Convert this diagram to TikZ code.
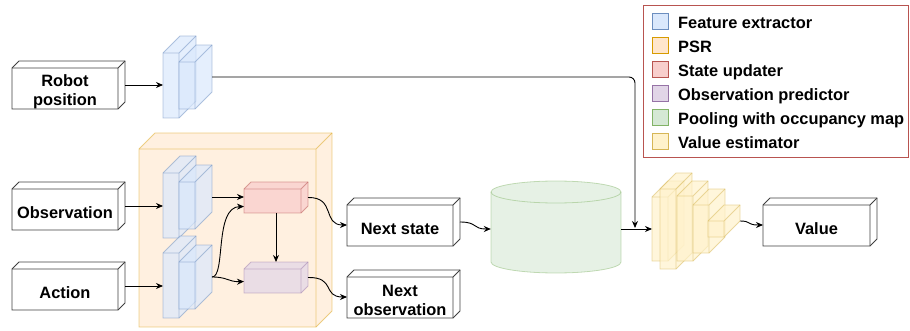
\documentclass[tikz,border=0pt]{standalone}
\usepackage{fontspec}
\setmainfont{Liberation Sans}
\usetikzlibrary{arrows.meta,calc}

% palette
\definecolor{feFill}{HTML}{DAE8FC}\definecolor{feLine}{HTML}{6C8EBF}
\definecolor{psrFill}{HTML}{FFE6CC}\definecolor{psrLine}{HTML}{D79B00}
\definecolor{suFill}{HTML}{F8CECC}\definecolor{suLine}{HTML}{B85450}
\definecolor{opFill}{HTML}{E1D5E7}\definecolor{opLine}{HTML}{9673A6}
\definecolor{poolFill}{HTML}{D5E8D4}\definecolor{poolLine}{HTML}{82B366}
\definecolor{veFill}{HTML}{FFF2CC}\definecolor{veLine}{HTML}{D6B656}

\tikzset{
  lbl/.style={font=\fontsize{16.4}{19}\selectfont\bfseries, align=center, inner sep=0pt},
  plain/.style={draw=black!75, fill=white, line width=0.8pt},
  fe/.style={draw=feLine, fill=feFill, draw opacity=0.5, fill opacity=0.7, line width=0.8pt},
  psr/.style={draw=psrLine, fill=psrFill, draw opacity=0.45, fill opacity=0.6, line width=0.8pt},
  su/.style={draw=suLine, fill=suFill, draw opacity=0.5, fill opacity=0.75, line width=0.8pt},
  op/.style={draw=opLine, fill=opFill, draw opacity=0.45, fill opacity=0.7, line width=0.8pt},
  pool/.style={draw=poolLine, fill=poolFill, draw opacity=0.45, fill opacity=0.6, line width=0.8pt},
  ve/.style={draw=veLine, fill=veFill, draw opacity=0.5, fill opacity=0.7, line width=0.8pt},
  link/.style={draw=black, line width=0.9pt, -{Stealth[length=7pt,width=6pt]}},
  swatch/.style={minimum width=16pt, minimum height=16pt, inner sep=0pt, line width=0.8pt},
  keytext/.style={lbl, anchor=base west},
}

% 3D block: [style]{name}{x}{y}{width}{height}{depth}{text}
% (x,y) is the top-left corner of the whole block, y grows downwards
\newcommand\dcube[8][]{%
  \draw[#1] (#3,#4+#7) -- (#3+#7,#4) -- (#3+#5,#4) -- (#3+#5,#4+#6-#7)
        -- (#3+#5-#7,#4+#6) -- (#3,#4+#6) -- cycle;
  \draw[#1,fill=none] (#3,#4+#7) -- (#3+#5-#7,#4+#7) -- (#3+#5,#4)
        (#3+#5-#7,#4+#7) -- (#3+#5-#7,#4+#6);
  \node[inner sep=0pt, outer sep=0pt, minimum width=#5pt, minimum height=#6pt]
        (#2) at (#3+#5/2,#4+#6/2) {};
  \node[lbl] (#2-t) at (#3+#5/2-#7/2,#4+#6/2+#7/2+3) {#8};
}
% pair of thin slabs forming a feature extractor
\newcommand\fepair[2]{%
  \dcube[fe]{#1a}{163}{#2}{33}{82}{17}{}
  \dcube[fe]{#1b}{179}{#2+9}{33}{64}{17}{}
}

\begin{document}
\begin{tikzpicture}[x=1pt,y=-1pt]
\useasboundingbox (0,0) rectangle (910,331);

% inputs
\dcube[plain]{robot}{12}{61}{113}{48}{7}{Robot\\position}
\dcube[plain]{obs}{12}{182}{113}{48}{7}{Observation}
\dcube[plain]{act}{12}{262}{113}{48}{7}{Action}

% PSR container
\dcube[psr]{psr}{139}{133}{193}{194}{16}{}

% feature extractors
\fepair{r}{36}
\fepair{o}{156}
\fepair{c}{236}

% state updater and observation predictor
\dcube[su]{su}{244}{182}{64}{31}{7}{}
\dcube[op]{op}{244}{262}{64}{31}{7}{}

% outputs
\dcube[plain]{nstate}{347}{198}{113}{48}{7}{Next state}
\dcube[plain]{nobs}{347}{270}{113}{48}{7}{Next\\observation}

% pooling with occupancy map
\draw[pool] (491,192) -- (491,262) arc[start angle=180,end angle=0,x radius=65,y radius=11]
  -- (621,192) arc[start angle=0,end angle=-180,x radius=65,y radius=11] -- cycle;
\draw[pool,fill=none] (491,192) arc[start angle=180,end angle=0,x radius=65,y radius=11];
\node[inner sep=0pt, minimum width=130pt, minimum height=92pt] (pool) at (556,227) {};

% value estimator
\dcube[ve]{v1}{652}{181}{32}{80}{16}{}
\dcube[ve]{v2}{660}{173}{32}{96}{16}{}
\dcube[ve]{v3}{677}{181}{31}{80}{15}{}
\dcube[ve]{v4}{693}{189}{32}{64}{16}{}
\dcube[ve]{v5}{708}{205}{32}{32}{16}{}

\dcube[plain]{value}{763}{198}{114}{48}{7}{Value}

% connectors
\draw[link] (robot.east) -- (robot.east -| ra.west);
\draw[link] (obs.east) -- (obs.east -| oa.west);
\draw[link] (act.east) -- (act.east -| ca.west);

\draw[link] (ob.east) -- (ob.east -| su.west);
\draw[link] (cb.east) .. controls (226,277) and (214,207) .. ($(su.west)+(0,9)$);
\draw[link] (cb.east) .. controls (228,277) and (228,282) .. ($(op.west)+(0,4)$);
\draw[link] (su.south) -- (op.north);

\draw[link] (su.east) .. controls (336,197) and (322,225) .. ($(nstate.west)+(0,3)$);
\draw[link] (op.east) .. controls (336,277) and (322,297) .. ($(nobs.west)+(0,3)$);
\draw[link] (nstate.east) .. controls (478,222) and (472,229) .. ($(pool.west)+(0,2)$);

\coordinate (pout) at ($(pool.east)+(0,2)$);
\coordinate (merge) at (635,228);
\draw[link] (pout) -- (pout -| v1.west);
\draw[link, rounded corners=6pt] (rb.east) -| (merge);

\draw[link] (v5.east) .. controls (752,221) and (746,225) .. ($(value.west)+(0,3)$);

% legend
\node[draw=suLine, line width=0.8pt, minimum width=265pt, minimum height=152pt,
      inner sep=0pt, anchor=north west] (legend) at (643,5) {};
\node[swatch, draw=feLine, fill=feFill]     (k1) at (660.5,21)  {};
\node[swatch, draw=psrLine, fill=psrFill]   (k2) at (660.5,45)  {};
\node[swatch, draw=suLine, fill=suFill]     (k3) at (660.5,69)  {};
\node[swatch, draw=opLine, fill=opFill]     (k4) at (660.5,93)  {};
\node[swatch, draw=poolLine, fill=poolFill] (k5) at (660.5,117) {};
\node[swatch, draw=veLine, fill=veFill]     (k6) at (660.5,141) {};
\node[keytext] (k1t) at (678,29)  {Feature extractor};
\node[keytext] (k2t) at (678,53)  {PSR};
\node[keytext] (k3t) at (678,77)  {State updater};
\node[keytext] (k4t) at (678,101) {Observation predictor};
\node[keytext] (k5t) at (678,125) {Pooling with occupancy map};
\node[keytext] (k6t) at (678,149) {Value estimator};
\end{tikzpicture}
\end{document}
